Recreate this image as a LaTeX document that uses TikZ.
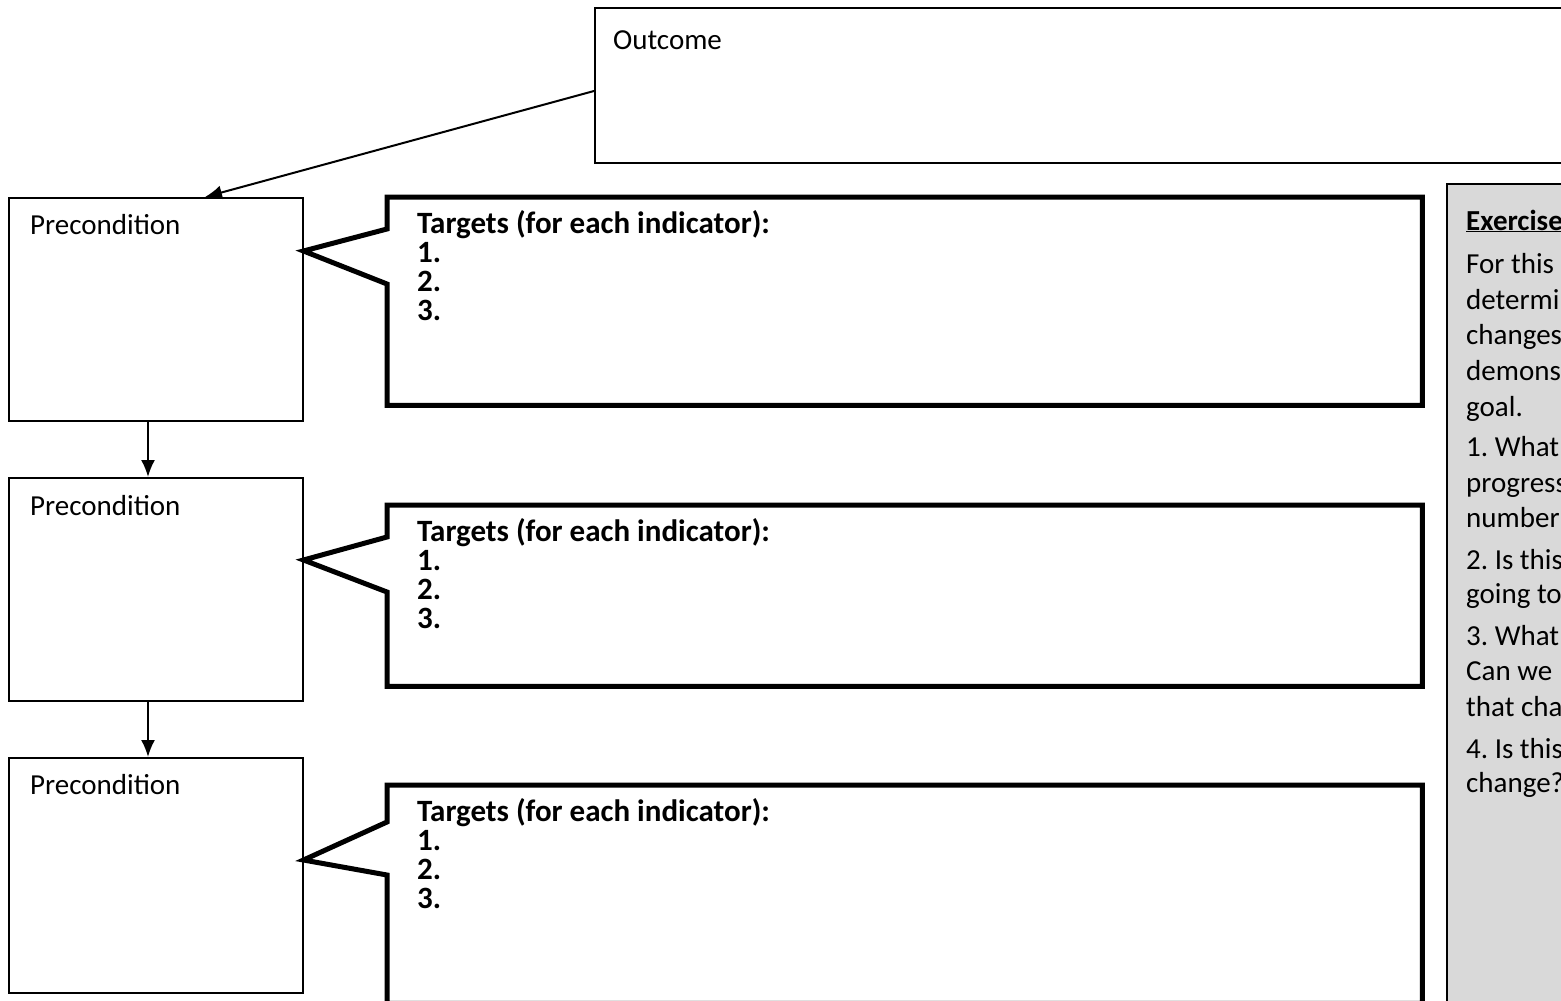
\documentclass[tikz,border=0pt]{standalone}
\usepackage{fontspec}
\setmainfont{Carlito}
\usetikzlibrary{arrows.meta}
\definecolor{panelgray}{HTML}{D9D9D9}
\frenchspacing
\tikzset{
  thinbox/.style={draw=black, line width=1.5pt, fill=white, inner sep=0pt, anchor=north west},
  hidbox/.style={draw=none, inner sep=0pt, anchor=north west},
  callline/.style={draw=black, line width=5pt, line join=miter, fill=white},
  panelbox/.style={draw=black, line width=1.5pt, fill=panelgray, inner sep=0pt, anchor=north west},
  conn/.style={line width=2pt, -{Latex[length=17pt,width=14pt]}},
  txt/.style={inner sep=0pt, anchor=base west, font=\fontsize{29}{35}\selectfont},
  btxt/.style={inner sep=0pt, anchor=base west, font=\fontsize{31}{36}\selectfont\bfseries},
}
\begin{document}
\begin{tikzpicture}[x=1pt,y=-1pt]
\useasboundingbox (0,0) rectangle (1561,1001);
\clip (0,0) rectangle (1561,1001);
\fill[white] (0,0) rectangle (1561,1001);

% outcome
\node[thinbox, minimum width=1000, minimum height=155] (out) at (594,7) {};
\node[txt] (outT) at (613,49) {Outcome};

% preconditions
\node[thinbox, minimum width=294, minimum height=223] (p1) at (8,197) {};
\node[thinbox, minimum width=294, minimum height=223] (p2) at (8,477) {};
\node[thinbox, minimum width=294, minimum height=235] (p3) at (8,757) {};
\node[txt] (p1T) at (30,234) {Precondition};
\node[txt] (p2T) at (30,515) {Precondition};
\node[txt] (p3T) at (30,794) {Precondition};

% connectors
\coordinate (outL) at (594,91);
\coordinate (p1in) at (205,197);
\draw[conn] (outL) -- (p1in);
\draw[conn] (p1.south -| 148,0) -- (p2.north -| 148,0);
\draw[conn] (p2.south -| 148,0) -- (p3.north -| 148,0);

% callouts
\node[hidbox, minimum width=1035, minimum height=208] (c1) at (387,197) {};
\node[hidbox, minimum width=1035, minimum height=181] (c2) at (387,505) {};
\node[hidbox, minimum width=1035, minimum height=218] (c3) at (387,785) {};
\draw[callline] (c1.north west) -- (c1.north east) -- (c1.south east) -- (c1.south west)
  -- ([yshift=-87pt]c1.north west) -- (p1.east |- 0,251) -- ([yshift=-32pt]c1.north west) -- cycle;
\draw[callline] (c2.north west) -- (c2.north east) -- (c2.south east) -- (c2.south west)
  -- ([yshift=-87pt]c2.north west) -- (p2.east |- 0,560) -- ([yshift=-32pt]c2.north west) -- cycle;
\draw[callline] (c3.north west) -- (c3.north east) -- (c3.south east) -- (c3.south west)
  -- ([yshift=-90pt]c3.north west) -- (p3.east |- 0,860) -- ([yshift=-37pt]c3.north west) -- cycle;

\foreach \c/\t in {1/197,2/505,3/785}{
  \node[btxt] (c\c T0) at (417,\t+36) {Targets (for each indicator):};
  \node[btxt] (c\c T1) at (417,\t+65) {1.};
  \node[btxt] (c\c T2) at (417,\t+94) {2.};
  \node[btxt] (c\c T3) at (417,\t+123) {3.};
}

% exercise panel
\node[panelbox, minimum width=200, minimum height=840] (panel) at (1446,183) {};
\node[txt] (e0) at (1466,230) {\underline{\textbf{Exercise}\hspace{30pt}}};
\node[txt] (e1) at (1466,273) {For this};
\node[txt] (e2) at (1466,309) {determi};
\node[txt] (e3) at (1466,344) {changes};
\node[txt] (e4) at (1466,380) {demons};
\node[txt] (e5) at (1466,416) {goal.};
\node[txt] (e6) at (1466,456) {1. What};
\node[txt] (e7) at (1466,492) {progress};
\node[txt] (e8) at (1466,527) {number};
\node[txt] (e9) at (1466,569) {2. Is this};
\node[txt] (e10) at (1466,603) {going to};
\node[txt] (e11) at (1466,645) {3. What};
\node[txt] (e12) at (1466,680) {Can we};
\node[txt] (e13) at (1466,716) {that cha};
\node[txt] (e14) at (1466,758) {4. Is this};
\node[txt] (e15) at (1466,792) {change?};
\end{tikzpicture}
\end{document}
